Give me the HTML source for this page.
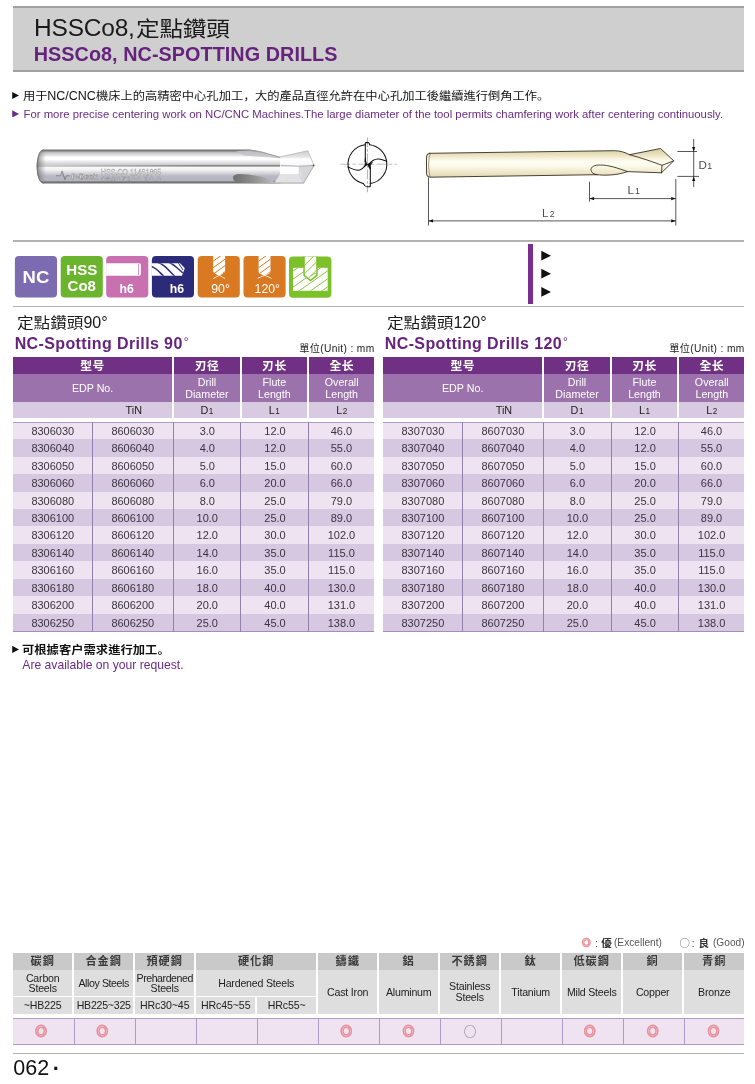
<!DOCTYPE html>
<html lang="zh-Hant">
<head>
<meta charset="utf-8">
<title>HSSCo8, NC-Spotting Drills</title>
<style>
*{margin:0;padding:0;box-sizing:border-box}
html,body{width:755px;height:1084px;background:#fff;overflow:hidden}
body{position:relative;font-family:"Liberation Sans","Noto Sans CJK TC",sans-serif;color:#222}
.abs{position:absolute}
#hdr{position:absolute;left:12.5px;top:5.6px;width:731.9px;height:66.3px;background:#cfcfcf;border-top:2.1px solid #a0a0a0;border-bottom:2.2px solid #a0a0a0}
#hdr .t1{position:absolute;left:21.5px;top:5.3px;font-size:24.5px;line-height:30px;color:#1a1a1a;white-space:nowrap;letter-spacing:-0.2px}
#hdr .t1 b{font-weight:normal;font-size:21px;display:inline-block;transform:scaleX(1.125);transform-origin:0 50%;position:relative;top:-.3px;margin-left:1.6px}
#hdr .t2{position:absolute;left:21.2px;top:35.7px;font-size:19.8px;line-height:22px;font-weight:bold;color:#66237c;white-space:nowrap;letter-spacing:.06px}
.bl{position:absolute;left:12.2px;white-space:nowrap;font-size:11.6px;line-height:14px}
.bl .tri{display:inline-block;width:6.8px;height:7.1px;margin-right:4.5px;vertical-align:.55px;background:currentColor;clip-path:polygon(0 0,100% 50%,0 100%)}
.cj{display:inline-block;transform-origin:0 50%;font-weight:inherit;font-style:normal}
.sc{font-family:"Liberation Sans","Noto Sans CJK SC",sans-serif}
.hl{position:absolute;left:13px;width:731px;height:1.6px;background:#b2b2b2}
.sec{position:absolute;top:0;width:360.8px;height:640px}
.tcn{position:absolute;left:3.8px;top:313.2px;font-size:16px;line-height:20px;color:#1a1a1a;white-space:nowrap}
.tcn b{font-weight:normal;font-size:14.4px;display:inline-block;transform:scaleX(1.155);transform-origin:0 50%;margin-right:8.8px;position:relative;top:.3px}
.ten{position:absolute;left:1.4px;top:333.6px;font-size:16px;line-height:20px;font-weight:bold;color:#66237c;white-space:nowrap;letter-spacing:.38px}
.ten .deg{font-weight:normal;font-size:12px;position:relative;top:-3px;margin-left:1px}
.unit{position:absolute;right:-.4px;top:343.1px;font-size:10.2px;line-height:12px;color:#222;white-space:nowrap;letter-spacing:.35px}
.h1,.h2,.h3{position:absolute;text-align:center;overflow:hidden;white-space:nowrap}
.h1{top:357.4px;height:16.4px;background:#703083;color:#fff;font-size:11.8px;line-height:18.6px;font-weight:bold;letter-spacing:.5px}
.h2{top:373.8px;height:28.2px;padding-top:1.2px;background:#9b72ab;color:#fff;font-size:10.7px;line-height:12px;display:flex;align-items:center;justify-content:center}
.h3{top:402px;height:15.6px;background:#d8cae1;color:#222;font-size:10.8px;line-height:16.6px}
.h3 small{font-size:8.2px;margin-left:.5px}
.rows{position:absolute;left:0;top:421.75px;width:360.8px;height:209.8px}
.rows .t{position:absolute;left:0;width:100%;height:1px;background:#b09cc2}
.r{position:absolute;left:0;width:100%;height:17.5px;font-size:11px;line-height:19.9px;color:#3a3340}
.r.a{background:#eee3f1}
.r.b{background:#d7c8e2}
.r i{position:absolute;top:0;font-style:normal;text-align:center}
.rows .v{position:absolute;top:0;width:1px;height:100%;background:#9480ac}
.mat{position:absolute;left:12.9px;top:953.3px;width:732px;height:92px;font-size:10.6px;color:#222}
.m1,.m2,.m3{position:absolute;text-align:center;white-space:nowrap;overflow:hidden}
.m1{top:0;height:16.4px;background:#c9c9c9;font-size:11.2px;line-height:16.6px;font-weight:bold;letter-spacing:1px;color:#3a3a3a}
.m2{top:16.9px;height:26px;background:#dedede;line-height:10.5px;display:flex;align-items:center;justify-content:center;letter-spacing:-0.2px}
.m2.tall{height:43.5px}
.m3{top:43.8px;height:16.6px;background:#dedede;line-height:16.9px;letter-spacing:-0.1px}
.mrow{position:absolute;left:.3px;top:64.5px;width:731.3px;height:27px;background:#efe2f1;border-top:1.2px solid #b09ac6;border-bottom:1.2px solid #b09ac6;z-index:0}
.mrow b{position:absolute;top:0;width:1.2px;height:100%;background:#b09ac6}
.mk{position:absolute;top:68.6px;width:16px;margin-left:-3.5px;text-align:center;font-size:12px;line-height:20px;z-index:2}
.mk.e{color:#e8929c;font-weight:bold;-webkit-text-stroke:.9px #e8929c}
.mk.g{color:#777;font-size:12.6px;font-family:"Noto Sans CJK TC",sans-serif;margin-left:-3.5px;top:67.6px}
#legend{position:absolute;left:0;top:936.4px;width:755px;height:14px;font-size:10.6px;line-height:14px;color:#555;white-space:nowrap}
#legend span{position:absolute;top:0}
#legend .lc{font-weight:bold;font-size:10.6px;color:#333}
#legend .lt{font-size:10.15px}
#pg{position:absolute;left:13.3px;top:1055.3px;font-size:21.5px;line-height:26px;color:#111;white-space:nowrap}
</style>
</head>
<body>
<div id="hdr"><div class="t1">HSSCo8,<b>定點鑽頭</b></div><div class="t2">HSSCo8, NC-SPOTTING DRILLS</div></div>
<div class="bl" style="top:89.2px;color:#111;font-size:12.5px"><span class="tri" style="vertical-align:1.15px"></span><i class="cj" style="font-size:10.9px;transform:scaleX(1.126);margin-right:1.95px">用于</i>NC/CNC<i class="cj" style="font-size:10.9px;transform:scaleX(1.126);margin-right:17.85px">機床上的高精密中心孔加工<span class="sc" lang="zh-Hans">，</span></i><i class="cj" style="font-size:10.9px;transform:scaleX(1.126);margin-right:32.96px">大的產品直徑允許在中心孔加工後繼續進行倒角工作<span class="sc" lang="zh-Hans">。</span></i></div>
<div class="bl" style="top:107px;color:#6b2c86;font-size:11.35px"><span class="tri"></span>For more precise centering work on NC/CNC Machines.The large diameter of the tool permits chamfering work after centering continuously.</div>
<svg class="abs" style="left:0;top:130px" width="755" height="180" viewBox="0 130 755 180" font-family="Liberation Sans, sans-serif">
<defs>
<linearGradient id="steel" x1="0" y1="149.5" x2="0" y2="183.5" gradientUnits="userSpaceOnUse">
<stop offset="0" stop-color="#747474"/><stop offset="0.045" stop-color="#7a7a7a"/><stop offset="0.07" stop-color="#b0b0b2"/><stop offset="0.11" stop-color="#cdcdd2"/><stop offset="0.165" stop-color="#dedee2"/><stop offset="0.22" stop-color="#ffffff"/><stop offset="0.29" stop-color="#ffffff"/><stop offset="0.36" stop-color="#e8e8ea"/><stop offset="0.44" stop-color="#d0d0d4"/><stop offset="0.455" stop-color="#8a8a8a"/><stop offset="0.495" stop-color="#8a8a8a"/><stop offset="0.51" stop-color="#fafafa"/><stop offset="0.60" stop-color="#f2f2f2"/><stop offset="0.69" stop-color="#d6d6da"/><stop offset="0.78" stop-color="#b8b8c4"/><stop offset="0.93" stop-color="#b4b4c0"/><stop offset="0.947" stop-color="#737373"/><stop offset="1" stop-color="#707070"/>
</linearGradient>
<linearGradient id="cl" x1="37" y1="0" x2="200" y2="0" gradientUnits="userSpaceOnUse"><stop offset="0" stop-color="#e8e8e8" stop-opacity=".75"/><stop offset="1" stop-color="#e8e8e8" stop-opacity="0"/></linearGradient>
<linearGradient id="flute" x1="232" y1="0" x2="275" y2="0" gradientUnits="userSpaceOnUse"><stop offset="0" stop-color="#6c6c6c"/><stop offset="0.45" stop-color="#8c8c8c"/><stop offset="1" stop-color="#bcbcbc"/></linearGradient>
<linearGradient id="endc" x1="37" y1="0" x2="46" y2="0" gradientUnits="userSpaceOnUse"><stop offset="0" stop-color="#666" stop-opacity=".75"/><stop offset="1" stop-color="#888" stop-opacity="0"/></linearGradient>
<linearGradient id="cream" x1="0" y1="150" x2="0" y2="177" gradientUnits="userSpaceOnUse"><stop offset="0" stop-color="#d9cfa4"/><stop offset="0.2" stop-color="#ece5c4"/><stop offset="0.42" stop-color="#fffdf2"/><stop offset="0.55" stop-color="#fffdf2"/><stop offset="0.8" stop-color="#f0e9cc"/><stop offset="1" stop-color="#e2d9b4"/></linearGradient>
<linearGradient id="tipu" x1="0" y1="151" x2="0" y2="166" gradientUnits="userSpaceOnUse"><stop offset="0" stop-color="#cfcfcf"/><stop offset="0.35" stop-color="#e2e2e2"/><stop offset="0.55" stop-color="#ffffff"/><stop offset="1" stop-color="#f6f6f6"/></linearGradient>
</defs>
<!-- photo of the drill -->
<g id="photo">
<path d="M44,149.500 L250,149.500 L261,151.500 L281,157 L281,183.500 L44,183.500 C39.500,183.500 36.700,176 36.700,166.500 C36.700,157 39.500,149.500 44,149.500 Z" fill="url(#steel)"/>
<rect x="38" y="164.600" width="165" height="2.200" fill="url(#cl)"/>
<path d="M44,149.500 C39.500,149.500 36.700,157 36.700,166.500 C36.700,176 39.500,183.500 44,183.500 L52,183.500 L52,149.500 Z" fill="url(#endc)"/>
<path d="M44,149.900 C39.800,149.900 37.200,157 37.200,166.500 C37.200,176 39.800,183.100 44,183.100" fill="none" stroke="#777" stroke-width="1"/>
<path d="M236,151 L250,150.600 L261,152.200 L281,157.600 L281,158.600 L262,156.800 L244,155.600 Z" fill="#c2c2c8" opacity=".85"/>
<path d="M248,150 L261,152 L281,157.500" fill="none" stroke="#a0a0a0" stroke-width="1.100"/>
<path d="M280,157 L307.800,150.600 L314.200,165.400 L303.600,183.400 L280,183.500 Z" fill="#e6e6e8"/>
<path d="M280,156.800 L307.800,150.600 L314.200,165.400 L299.300,166 L280,164.600 Z" fill="url(#tipu)"/>
<path d="M280,166.400 L299.300,166.600 L299.300,174 L280,174 Z" fill="#fdfdfd"/>
<path d="M275,182 L280,174 L299.300,174 L303.600,183.400 L275,183.400 Z" fill="#e2e2e4"/>
<path d="M299.300,166 L314.200,165.400 L303.600,183.400 Z" fill="#d6d6d8"/>
<path d="M299.300,166.400 L299.300,174 L303.600,183.400" fill="none" stroke="#c4c4c4" stroke-width=".7"/>
<path d="M280,157 L307.800,150.800 L314,165.200" fill="none" stroke="#bdbdbd" stroke-width=".9"/>
<path d="M281,165.600 L299.300,166.200 L313.600,165.400" fill="none" stroke="#a4a4a4" stroke-width=".8"/>
<path d="M275,183 L303.600,183 L314,165.600" fill="none" stroke="#a8a8a8" stroke-width=".9"/>
<path d="M233,177.500 Q233.300,173.800 240,173.900 Q262,174.800 275,182.200 L275,183 Q254,183.200 240,182.800 Q233,182 233,177.500 Z" fill="url(#flute)"/>
<circle cx="313.600" cy="165.300" r="0.900" fill="#444"/>
<text x="100.800" y="175.300" font-size="8.200" fill="#f4f4f4" stroke="#8a8a8a" stroke-width=".3" textLength="60.500" lengthAdjust="spacingAndGlyphs">HSS.CO 11461865</text>
<text x="100.800" y="181.200" font-size="5.600" fill="#efefef" stroke="#8a8a92" stroke-width=".3" textLength="60.500" lengthAdjust="spacingAndGlyphs">08307100 10.0</text>
<text x="71.500" y="178.600" font-size="6.800" font-weight="bold" fill="#ededed" stroke="#777" stroke-width=".35" textLength="26" lengthAdjust="spacingAndGlyphs">P-Beck</text>
<path d="M56,175.800 L60.500,175.800 L62.200,171 L63.600,175.800 L65,180 L66.500,175.800 L70,175.800 M62.200,173.500 L65,178" fill="none" stroke="#858585" stroke-width=".9"/>
</g>
<!-- cross section -->
<g id="cross" fill="none" stroke="#111" stroke-width="1.050" stroke-linecap="round" stroke-linejoin="round">
<path d="M340.800,164.200 H396.800" stroke="#b9b9b9" stroke-width=".9" stroke-dasharray="9 3 3 3"/>
<path d="M367.400,137.800 V191.800" stroke="#9a9a9a" stroke-width=".8" stroke-dasharray="9 2.500 2 2.500"/>
<path d="M369.600,144.700 A19.600,19.600 0 0 1 386.600,161.200"/>
<path d="M386.600,161.200 A19.600,19.600 0 0 1 370.300,183.600"/>
<path d="M363.200,183.400 A19.600,19.600 0 0 1 348.200,167"/>
<path d="M348.200,167 A19.600,19.600 0 0 1 365.300,144.800"/>
<path d="M365.300,161.500 V143.200 Q365.300,142.600 366,142.600 H368.300 Q369.300,142.600 369.600,144.700"/>
<path d="M370.300,167 V186 Q370.300,186.700 369.600,186.700 H367 Q365.200,186.700 363.200,183.400"/>
<path d="M368.500,165 C372,160 376,158.600 379,159 C382.500,159.500 384.500,160.600 386.600,161.200"/>
<path d="M366.300,164 C363.500,168.500 360.500,170.300 357.500,170.300 C354,170.300 351,168.300 348.200,167"/>
<path d="M365.300,158.500 C365.500,161.500 366.400,163.300 367.600,164.300 C366.600,165.600 365.600,166.300 364.300,166.600 C365.200,165.300 365.500,163.500 364.900,161.500 Z" fill="#111" stroke-width=".5"/>
<path d="M367.600,164.300 C369,163.300 370.800,162.600 372.600,162.500 C371.300,163.600 370.600,164.600 370.500,166 L370.500,169.800 C369.300,168.300 368.200,166.300 367.600,164.300 Z" fill="#111" stroke-width=".5"/>
</g>
<!-- technical drawing -->
<g id="drawing" fill="none" stroke="#2b2417" stroke-width=".85" stroke-linejoin="round" stroke-linecap="round">
<path d="M429.500,153.300 L614.500,150.700 C620,150.700 625,152.300 629.500,154.700 L660.500,148.500 L673.800,160.800 L661.500,172.800 L627.500,171.600 C615,176 603,175.300 597,174.700 L430,177.200 Q426.500,177.200 426.500,173.500 L426.500,157 Q426.500,153.300 429.500,153.300 Z" fill="url(#cream)"/>
<path d="M629.500,154.700 C642,158 653,162 662,165.300"/>
<path d="M673.800,160.800 L662,165.300 L661.500,172.800"/>
<path d="M627.500,171.600 C618,168 608,165 600.500,165 C594,165 591,167 591,169.500 C591,172.500 594,174.500 597,174.700"/>
<path d="M430.300,153.400 Q428.600,157 428.600,165 Q428.600,173 430.300,177.100" stroke-width=".6" stroke="#6b6146"/>
</g>
<g id="dims" fill="none" stroke="#222" stroke-width=".75">
<path d="M428.500,177.500 V225.500 M675.800,179 V225.500 M589.500,181.700 V201.600"/>
<path d="M428.500,220.900 H675.800 M589.500,198.600 H675.800"/>
<path d="M677.400,151.500 H697 M677.400,176.400 H699 M693.700,139 V187"/>
<g fill="#111" stroke="none">
<path d="M428.500,220.900 l4.600,-1.700 v3.400 z M675.800,220.900 l-4.600,-1.700 v3.400 z M589.500,198.600 l4.600,-1.700 v3.400 z M675.800,198.600 l-4.600,-1.700 v3.400 z"/>
<path d="M693.700,151.500 l-1.600,-4.600 h3.200 z M693.700,176.400 l-1.600,4.600 h3.200 z"/>
</g>
</g>
<g fill="#4a4a4a" stroke="none" font-size="11.600">
<text x="698.500" y="168.800">D<tspan font-size="8.800" dx=".4">1</tspan></text>
<text x="627.400" y="194">L<tspan font-size="8.800" dx="1.200">1</tspan></text>
<text x="542" y="216.500">L<tspan font-size="8.800" dx="1.200">2</tspan></text>
</g>
</svg>

<!--CROSS-->
<!--DRAWING-->
<div class="hl" style="top:240.1px;height:1.7px"></div>
<svg class="abs" style="left:0;top:250px" width="560" height="56" viewBox="0 250 560 56" font-family="Liberation Sans, sans-serif">
<defs>
<clipPath id="cDrillH"><path d="M151.900,263.200 H180 L184.800,268.300 L182,275.800 H151.900 Z"/></clipPath>
<clipPath id="cDrillV5"><path d="M213.200,256 H225.100 V271.900 L219.150,275.800 L213.200,271.900 Z"/></clipPath>
<clipPath id="cDrillV6"><path d="M258.600,256 H270.500 V272.500 L264.550,275.600 L258.600,272.500 Z"/></clipPath>
<clipPath id="cBlock"><path d="M293.100,267.800 H327.700 V290.800 H293.100 Z"/></clipPath>
</defs>
<!-- 1 NC -->
<rect x="14.900" y="255.900" width="42.100" height="41.700" rx="4" fill="#7c6bb0"/>
<text x="22.600" y="283.100" font-size="17" font-weight="bold" fill="#fff" textLength="26.700" lengthAdjust="spacingAndGlyphs">NC</text>
<!-- 2 HSS Co8 -->
<rect x="60.700" y="255.900" width="42.100" height="41.700" rx="4" fill="#6ab42e"/>
<text x="66.300" y="275.200" font-size="14.800" font-weight="bold" fill="#fff" textLength="31.100" lengthAdjust="spacingAndGlyphs">HSS</text>
<text x="67.600" y="291" font-size="14.800" font-weight="bold" fill="#fff" textLength="28.400" lengthAdjust="spacingAndGlyphs">Co8</text>
<!-- 3 shank h6 -->
<rect x="106.200" y="255.900" width="42.100" height="41.700" rx="4" fill="#c870b0"/>
<path d="M106.200,263.200 H139 Q140.900,263.200 140.900,265 V274 Q140.900,275.800 139,275.800 H106.200 Z" fill="#fff"/>
<path d="M138.500,264 V275" stroke="#c870b0" stroke-width=".7" fill="none"/>
<text x="126.650" y="293" font-size="12.300" font-weight="bold" fill="#fff" text-anchor="middle">h6</text>
<!-- 4 drill h6 -->
<rect x="151.900" y="255.900" width="42.100" height="41.700" rx="4" fill="#2b2b7a"/>
<path d="M151.900,263.200 H180 L184.800,268.300 L182,275.800 H151.900 Z" fill="#fff"/>
<g clip-path="url(#cDrillH)" stroke="#2b2b7a" stroke-width="1.500" fill="none">
<path d="M150,266 C156,267 160,273 164,276.500"/>
<path d="M158,262.500 C165,264.500 170,272 175,276.500"/>
<path d="M169,262.500 C174,264 178,269 183,273"/>
<path d="M178,262.500 L183,270" stroke-width="1"/>
</g>
<text x="176.850" y="293" font-size="12.300" font-weight="bold" fill="#fff" text-anchor="middle">h6</text>
<!-- 5 90deg -->
<rect x="197.700" y="255.900" width="42.100" height="41.700" rx="4" fill="#d97a22"/>
<path d="M213.200,255.700 H225.100 V271.900 L219.150,275.800 L213.200,271.900 Z" fill="#fff"/>
<g clip-path="url(#cDrillV5)" stroke="#d97a22" stroke-width="1" fill="none">
<path d="M212,262 L226,252 M212,268.500 L226,258.500 M212,275 L226,265 M216,278 L226,271"/>
</g>
<path d="M213.200,278.600 L223,273.200 M225.100,278.600 L215.300,273.200" stroke="#fff" stroke-width=".8" fill="none"/>
<text x="220.600" y="293" font-size="12.300" fill="#fff" text-anchor="middle">90°</text>
<!-- 6 120deg -->
<rect x="243.500" y="255.900" width="42.100" height="41.700" rx="4" fill="#d97a22"/>
<path d="M258.600,255.700 H270.500 V272.500 L264.550,275.600 L258.600,272.500 Z" fill="#fff"/>
<g clip-path="url(#cDrillV6)" stroke="#d97a22" stroke-width="1" fill="none">
<path d="M257.400,262 L271.400,252 M257.400,268.500 L271.400,258.500 M257.400,275 L271.400,265 M261.400,278 L271.400,271"/>
</g>
<path d="M257.600,278.300 L269.500,273.200 M271.500,278.300 L259.600,273.200" stroke="#fff" stroke-width=".8" fill="none"/>
<text x="267.300" y="293" font-size="12.300" fill="#fff" text-anchor="middle">120°</text>
<!-- 7 spot drilling -->
<rect x="289" y="256.400" width="42.400" height="41.300" rx="4" fill="#7cc02a"/>
<rect x="293.100" y="267.800" width="34.600" height="23" fill="#fff"/>
<g clip-path="url(#cBlock)" stroke="#7cc02a" stroke-width=".9" fill="none">
<path d="M286,276 L306,262 M286,284 L318,261.600 M286,292 L330,261.200 M294,294.400 L334,266.400 M305.400,294.400 L334,274.400 M316.800,294.400 L334,282.400"/>
</g>
<path d="M303.300,256.400 H317.700 V275.800 L310.500,281.500 L303.300,275.800 Z" fill="#7cc02a"/>
<path d="M304.800,256.400 H316.200 V275 L310.500,279.600 L304.800,275 Z" fill="#fff"/>
<path d="M304.800,265 L313.500,256.400 M304.800,273.500 L316.200,262.300 M308.500,278 L316.200,270.500" stroke="#7cc02a" stroke-width=".9" fill="none"/>
<path d="M311,276.500 Q312,273.600 316,273.300" stroke="#7cc02a" stroke-width=".8" fill="none"/>
<!-- right side marker triangles -->
<path d="M541.300,250.800 L551,255.700 L541.300,260.600 Z M541.300,268.800 L551,273.700 L541.300,278.600 Z M541.300,287 L551,291.900 L541.300,296.800 Z" fill="#111"/>
</svg>

<div class="abs" style="left:528.1px;top:243.6px;width:5px;height:60.3px;background:#7a2f8e"></div>
<div class="hl" style="top:305.7px;height:1.5px"></div>
<div class="sec" style="left:13.3px">
<div class="tcn"><b>定點鑽頭</b>90°</div>
<div class="ten">NC-Spotting Drills 90<span class="deg">°</span></div>
<div class="unit">單位(Unit) : mm</div>
<div class="h1" style="left:0px;width:158.6px">型号</div>
<div class="h2" style="left:0px;width:158.6px"><span>EDP No.</span></div>
<div class="h3" style="left:0px;width:158.6px"><span style="position:absolute;left:80px;width:81px;text-align:center">TiN</span></div>
<div class="h1" style="left:161.0px;width:65.3px">刃径</div>
<div class="h2" style="left:161.0px;width:65.3px"><span>Drill<br>Diameter</span></div>
<div class="h3" style="left:161.0px;width:65.3px">D<small>1</small></div>
<div class="h1" style="left:228.6px;width:65.0px">刃长</div>
<div class="h2" style="left:228.6px;width:65.0px"><span>Flute<br>Length</span></div>
<div class="h3" style="left:228.6px;width:65.0px">L<small>1</small></div>
<div class="h1" style="left:296.0px;width:64.8px">全长</div>
<div class="h2" style="left:296.0px;width:64.8px"><span>Overall<br>Length</span></div>
<div class="h3" style="left:296.0px;width:64.8px">L<small>2</small></div>
<div class="rows">
<div class="r a" style="top:0.00px"><i style="left:0;width:79px">8306030</i><i style="left:79px;width:81px">8606030</i><i style="left:160.5px;width:67px">3.0</i><i style="left:228.2px;width:67px">12.0</i><i style="left:295.5px;width:65.3px">46.0</i></div>
<div class="r b" style="top:17.45px"><i style="left:0;width:79px">8306040</i><i style="left:79px;width:81px">8606040</i><i style="left:160.5px;width:67px">4.0</i><i style="left:228.2px;width:67px">12.0</i><i style="left:295.5px;width:65.3px">55.0</i></div>
<div class="r a" style="top:34.90px"><i style="left:0;width:79px">8306050</i><i style="left:79px;width:81px">8606050</i><i style="left:160.5px;width:67px">5.0</i><i style="left:228.2px;width:67px">15.0</i><i style="left:295.5px;width:65.3px">60.0</i></div>
<div class="r b" style="top:52.35px"><i style="left:0;width:79px">8306060</i><i style="left:79px;width:81px">8606060</i><i style="left:160.5px;width:67px">6.0</i><i style="left:228.2px;width:67px">20.0</i><i style="left:295.5px;width:65.3px">66.0</i></div>
<div class="r a" style="top:69.80px"><i style="left:0;width:79px">8306080</i><i style="left:79px;width:81px">8606080</i><i style="left:160.5px;width:67px">8.0</i><i style="left:228.2px;width:67px">25.0</i><i style="left:295.5px;width:65.3px">79.0</i></div>
<div class="r b" style="top:87.25px"><i style="left:0;width:79px">8306100</i><i style="left:79px;width:81px">8606100</i><i style="left:160.5px;width:67px">10.0</i><i style="left:228.2px;width:67px">25.0</i><i style="left:295.5px;width:65.3px">89.0</i></div>
<div class="r a" style="top:104.70px"><i style="left:0;width:79px">8306120</i><i style="left:79px;width:81px">8606120</i><i style="left:160.5px;width:67px">12.0</i><i style="left:228.2px;width:67px">30.0</i><i style="left:295.5px;width:65.3px">102.0</i></div>
<div class="r b" style="top:122.15px"><i style="left:0;width:79px">8306140</i><i style="left:79px;width:81px">8606140</i><i style="left:160.5px;width:67px">14.0</i><i style="left:228.2px;width:67px">35.0</i><i style="left:295.5px;width:65.3px">115.0</i></div>
<div class="r a" style="top:139.60px"><i style="left:0;width:79px">8306160</i><i style="left:79px;width:81px">8606160</i><i style="left:160.5px;width:67px">16.0</i><i style="left:228.2px;width:67px">35.0</i><i style="left:295.5px;width:65.3px">115.0</i></div>
<div class="r b" style="top:157.05px"><i style="left:0;width:79px">8306180</i><i style="left:79px;width:81px">8606180</i><i style="left:160.5px;width:67px">18.0</i><i style="left:228.2px;width:67px">40.0</i><i style="left:295.5px;width:65.3px">130.0</i></div>
<div class="r a" style="top:174.50px"><i style="left:0;width:79px">8306200</i><i style="left:79px;width:81px">8606200</i><i style="left:160.5px;width:67px">20.0</i><i style="left:228.2px;width:67px">40.0</i><i style="left:295.5px;width:65.3px">131.0</i></div>
<div class="r b" style="top:191.95px"><i style="left:0;width:79px">8306250</i><i style="left:79px;width:81px">8606250</i><i style="left:160.5px;width:67px">25.0</i><i style="left:228.2px;width:67px">45.0</i><i style="left:295.5px;width:65.3px">138.0</i></div>
<b class="t" style="top:0"></b><b class="t" style="bottom:0;background:#a78bb8"></b><b class="v" style="left:78.6px"></b><b class="v" style="left:159.3px"></b><b class="v" style="left:227.2px"></b><b class="v" style="left:294.3px"></b>
</div>
</div>
<div class="sec" style="left:383.4px">
<div class="tcn"><b>定點鑽頭</b>120°</div>
<div class="ten">NC-Spotting Drills 120<span class="deg">°</span></div>
<div class="unit">單位(Unit) : mm</div>
<div class="h1" style="left:0px;width:158.6px">型号</div>
<div class="h2" style="left:0px;width:158.6px"><span>EDP No.</span></div>
<div class="h3" style="left:0px;width:158.6px"><span style="position:absolute;left:80px;width:81px;text-align:center">TiN</span></div>
<div class="h1" style="left:161.0px;width:65.3px">刃径</div>
<div class="h2" style="left:161.0px;width:65.3px"><span>Drill<br>Diameter</span></div>
<div class="h3" style="left:161.0px;width:65.3px">D<small>1</small></div>
<div class="h1" style="left:228.6px;width:65.0px">刃长</div>
<div class="h2" style="left:228.6px;width:65.0px"><span>Flute<br>Length</span></div>
<div class="h3" style="left:228.6px;width:65.0px">L<small>1</small></div>
<div class="h1" style="left:296.0px;width:64.8px">全长</div>
<div class="h2" style="left:296.0px;width:64.8px"><span>Overall<br>Length</span></div>
<div class="h3" style="left:296.0px;width:64.8px">L<small>2</small></div>
<div class="rows">
<div class="r a" style="top:0.00px"><i style="left:0;width:79px">8307030</i><i style="left:79px;width:81px">8607030</i><i style="left:160.5px;width:67px">3.0</i><i style="left:228.2px;width:67px">12.0</i><i style="left:295.5px;width:65.3px">46.0</i></div>
<div class="r b" style="top:17.45px"><i style="left:0;width:79px">8307040</i><i style="left:79px;width:81px">8607040</i><i style="left:160.5px;width:67px">4.0</i><i style="left:228.2px;width:67px">12.0</i><i style="left:295.5px;width:65.3px">55.0</i></div>
<div class="r a" style="top:34.90px"><i style="left:0;width:79px">8307050</i><i style="left:79px;width:81px">8607050</i><i style="left:160.5px;width:67px">5.0</i><i style="left:228.2px;width:67px">15.0</i><i style="left:295.5px;width:65.3px">60.0</i></div>
<div class="r b" style="top:52.35px"><i style="left:0;width:79px">8307060</i><i style="left:79px;width:81px">8607060</i><i style="left:160.5px;width:67px">6.0</i><i style="left:228.2px;width:67px">20.0</i><i style="left:295.5px;width:65.3px">66.0</i></div>
<div class="r a" style="top:69.80px"><i style="left:0;width:79px">8307080</i><i style="left:79px;width:81px">8607080</i><i style="left:160.5px;width:67px">8.0</i><i style="left:228.2px;width:67px">25.0</i><i style="left:295.5px;width:65.3px">79.0</i></div>
<div class="r b" style="top:87.25px"><i style="left:0;width:79px">8307100</i><i style="left:79px;width:81px">8607100</i><i style="left:160.5px;width:67px">10.0</i><i style="left:228.2px;width:67px">25.0</i><i style="left:295.5px;width:65.3px">89.0</i></div>
<div class="r a" style="top:104.70px"><i style="left:0;width:79px">8307120</i><i style="left:79px;width:81px">8607120</i><i style="left:160.5px;width:67px">12.0</i><i style="left:228.2px;width:67px">30.0</i><i style="left:295.5px;width:65.3px">102.0</i></div>
<div class="r b" style="top:122.15px"><i style="left:0;width:79px">8307140</i><i style="left:79px;width:81px">8607140</i><i style="left:160.5px;width:67px">14.0</i><i style="left:228.2px;width:67px">35.0</i><i style="left:295.5px;width:65.3px">115.0</i></div>
<div class="r a" style="top:139.60px"><i style="left:0;width:79px">8307160</i><i style="left:79px;width:81px">8607160</i><i style="left:160.5px;width:67px">16.0</i><i style="left:228.2px;width:67px">35.0</i><i style="left:295.5px;width:65.3px">115.0</i></div>
<div class="r b" style="top:157.05px"><i style="left:0;width:79px">8307180</i><i style="left:79px;width:81px">8607180</i><i style="left:160.5px;width:67px">18.0</i><i style="left:228.2px;width:67px">40.0</i><i style="left:295.5px;width:65.3px">130.0</i></div>
<div class="r a" style="top:174.50px"><i style="left:0;width:79px">8307200</i><i style="left:79px;width:81px">8607200</i><i style="left:160.5px;width:67px">20.0</i><i style="left:228.2px;width:67px">40.0</i><i style="left:295.5px;width:65.3px">131.0</i></div>
<div class="r b" style="top:191.95px"><i style="left:0;width:79px">8307250</i><i style="left:79px;width:81px">8607250</i><i style="left:160.5px;width:67px">25.0</i><i style="left:228.2px;width:67px">45.0</i><i style="left:295.5px;width:65.3px">138.0</i></div>
<b class="t" style="top:0"></b><b class="t" style="bottom:0;background:#a78bb8"></b><b class="v" style="left:78.6px"></b><b class="v" style="left:159.3px"></b><b class="v" style="left:227.2px"></b><b class="v" style="left:294.3px"></b>
</div>
</div>
<div class="bl" style="top:642.5px;color:#111;font-size:12.3px;font-weight:700"><span class="tri" style="margin-right:3.1px"></span><i class="cj" style="font-size:10.9px;transform:scaleX(1.13);margin-right:17.00px">可根據客户需求進行加工<span class="sc" lang="zh-Hans">。</span></i></div>
<div class="bl" style="top:658.4px;left:22.3px;color:#6b2c86;font-size:12.15px">Are available on your request.</div>
<div id="legend"><span class="le" style="left:581.8px;color:#e8929c;font-weight:bold;font-size:9.2px;-webkit-text-stroke:.7px #e8929c">◎</span><span style="left:595px">:</span><span class="lc" style="left:601.2px">優</span><span class="lt" style="left:614px">(Excellent)</span><span class="le" style="left:679.4px;color:#777;font-size:10.4px;font-family:'Noto Sans CJK TC',sans-serif">○</span><span style="left:691.8px">:</span><span class="lc" style="left:698.6px">良</span><span class="lt" style="left:713px">(Good)</span></div>
<div class="mat">
<div class="m1" style="left:0.3px;width:59.0px">碳鋼</div>
<div class="m2" style="left:0.3px;width:59.0px"><span>Carbon<br>Steels</span></div>
<div class="m3" style="left:0.3px;width:59.0px">~HB225</div>
<span class="mk e" style="left:23.7px">◎</span>
<div class="m1" style="left:61.3px;width:59.0px">合金鋼</div>
<div class="m2" style="left:61.3px;width:59.0px"><span><span style="letter-spacing:-.4px">Alloy Steels</span></span></div>
<div class="m3" style="left:61.3px;width:59.0px"><span style="letter-spacing:-.25px">HB225~325</span></div>
<span class="mk e" style="left:84.8px">◎</span>
<div class="m1" style="left:122.3px;width:59.0px">預硬鋼</div>
<div class="m2" style="left:122.3px;width:59.0px"><span><span style="letter-spacing:-.45px">Prehardened</span><br>Steels</span></div>
<div class="m3" style="left:122.3px;width:59.0px">HRc30~45</div>

<div class="m1" style="left:183.3px;width:120.0px">硬化鋼</div>
<div class="m2" style="left:183.3px;width:120.0px"><span>Hardened Steels</span></div>
<div class="m3" style="left:183.3px;width:59.0px">HRc45~55</div>
<div class="m3" style="left:244.3px;width:59.0px">HRc55~</div>
<div class="m1" style="left:305.3px;width:59.0px">鑄鐵</div>
<div class="m2 tall" style="left:305.3px;width:59.0px"><span>Cast Iron</span></div>
<span class="mk e" style="left:328.8px">◎</span>
<div class="m1" style="left:366.3px;width:59.0px">鋁</div>
<div class="m2 tall" style="left:366.3px;width:59.0px"><span>Aluminum</span></div>
<span class="mk e" style="left:391.2px">◎</span>
<div class="m1" style="left:427.3px;width:59.0px">不銹鋼</div>
<div class="m2 tall" style="left:427.3px;width:59.0px"><span>Stainless<br>Steels</span></div>
<span class="mk g" style="left:452.7px">○</span>
<div class="m1" style="left:488.3px;width:59.0px">鈦</div>
<div class="m2 tall" style="left:488.3px;width:59.0px"><span>Titanium</span></div>

<div class="m1" style="left:549.3px;width:59.0px">低碳鋼</div>
<div class="m2 tall" style="left:549.3px;width:59.0px"><span>Mild Steels</span></div>
<span class="mk e" style="left:572.3px">◎</span>
<div class="m1" style="left:610.3px;width:59.0px">銅</div>
<div class="m2 tall" style="left:610.3px;width:59.0px"><span>Copper</span></div>
<span class="mk e" style="left:635.4px">◎</span>
<div class="m1" style="left:671.3px;width:60.2px">青銅</div>
<div class="m2 tall" style="left:671.3px;width:60.2px"><span>Bronze</span></div>
<span class="mk e" style="left:696.1px">◎</span>
<div class="mrow">
<b style="left:60.4px"></b>
<b style="left:121.4px"></b>
<b style="left:182.4px"></b>
<b style="left:243.4px"></b>
<b style="left:304.4px"></b>
<b style="left:365.4px"></b>
<b style="left:426.4px"></b>
<b style="left:487.4px"></b>
<b style="left:548.4px"></b>
<b style="left:609.4px"></b>
<b style="left:670.4px"></b>
</div>
</div>
<div class="hl" style="top:1053px;height:1.4px"></div>
<div id="pg">062<span style="font-weight:bold;margin-left:3.6px;position:relative;top:.6px">·</span></div>
</body>
</html>
